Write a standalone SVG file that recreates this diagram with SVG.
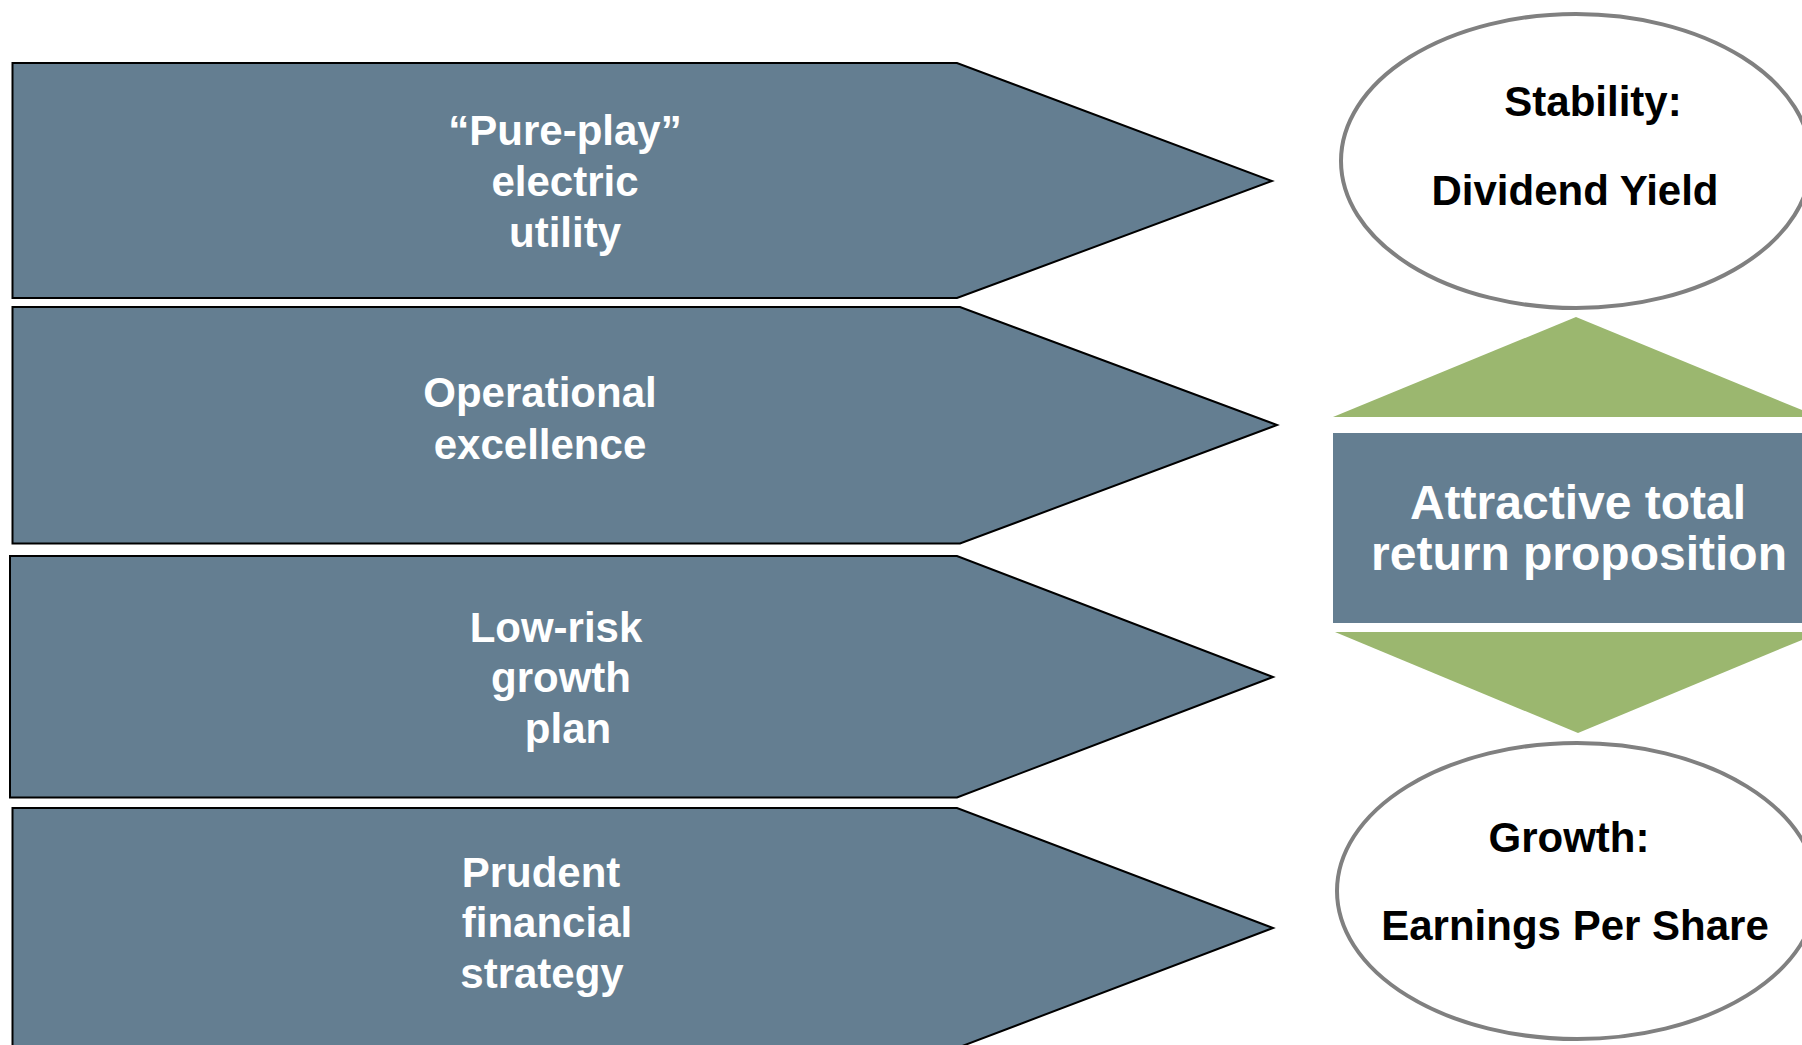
<svg xmlns="http://www.w3.org/2000/svg" width="1802" height="1045" viewBox="0 0 1802 1045">
<style>
.arrow{fill:#647e91;stroke:#000;stroke-width:2;stroke-linejoin:miter}
.wt{font-family:"Liberation Sans",Arial,sans-serif;font-weight:bold;font-size:42px;fill:#fff;text-anchor:middle}
.bt{font-family:"Liberation Sans",Arial,sans-serif;font-weight:bold;font-size:42px;fill:#000;text-anchor:middle}
.big{font-family:"Liberation Sans",Arial,sans-serif;font-weight:bold;font-size:48px;fill:#fff;text-anchor:middle}
.oval{fill:#fff;stroke:#808080;stroke-width:4}
.green{fill:#9bb76f}
</style>
<rect width="1802" height="1045" fill="#fff"/>
<g id="pillar1">
<polygon class="arrow" points="12.5,63 957,63 1272,181 957,298 12.5,298"/>
<text class="wt" x="565" y="145">“Pure-play”</text>
<text class="wt" x="565" y="196">electric</text>
<text class="wt" x="565" y="247">utility</text>
</g>
<g id="pillar2">
<polygon class="arrow" points="12.5,307 960,307 1277,425 960,543.5 12.5,543.5"/>
<text class="wt" x="540" y="407">Operational</text>
<text class="wt" x="540" y="459">excellence</text>
</g>
<g id="pillar3">
<polygon class="arrow" points="10,556 957,556 1273,677 957,797.5 10,797.5"/>
<text class="wt" x="556" y="642">Low-risk</text>
<text class="wt" x="561" y="692">growth</text>
<text class="wt" x="568" y="743">plan</text>
</g>
<g id="pillar4">
<polygon class="arrow" points="12.5,808 957,808 1273,928 957,1048 12.5,1048"/>
<text class="wt" x="541" y="887">Prudent</text>
<text class="wt" x="547" y="937">financial</text>
<text class="wt" x="542" y="988">strategy</text>
</g>
<g id="stability">
<ellipse class="oval" cx="1576" cy="161" rx="235" ry="147"/>
<text class="bt" x="1593" y="116">Stability:</text>
<text class="bt" x="1575" y="205">Dividend Yield</text>
</g>
<g id="connectors">
<polygon id="up-arrow" class="green" points="1333,417 1576,317 1819,417"/>
<polygon id="down-arrow" class="green" points="1335,632 1821,632 1578,733"/>
</g>
<g id="total-return">
<rect x="1333" y="433" width="490" height="190" fill="#647e91"/>
<text class="big" x="1578" y="519">Attractive total</text>
<text class="big" x="1579" y="570">return proposition</text>
</g>
<g id="growth">
<ellipse class="oval" cx="1577" cy="891" rx="240" ry="148"/>
<text class="bt" x="1569" y="852">Growth:</text>
<text class="bt" x="1575" y="940">Earnings Per Share</text>
</g>
</svg>
